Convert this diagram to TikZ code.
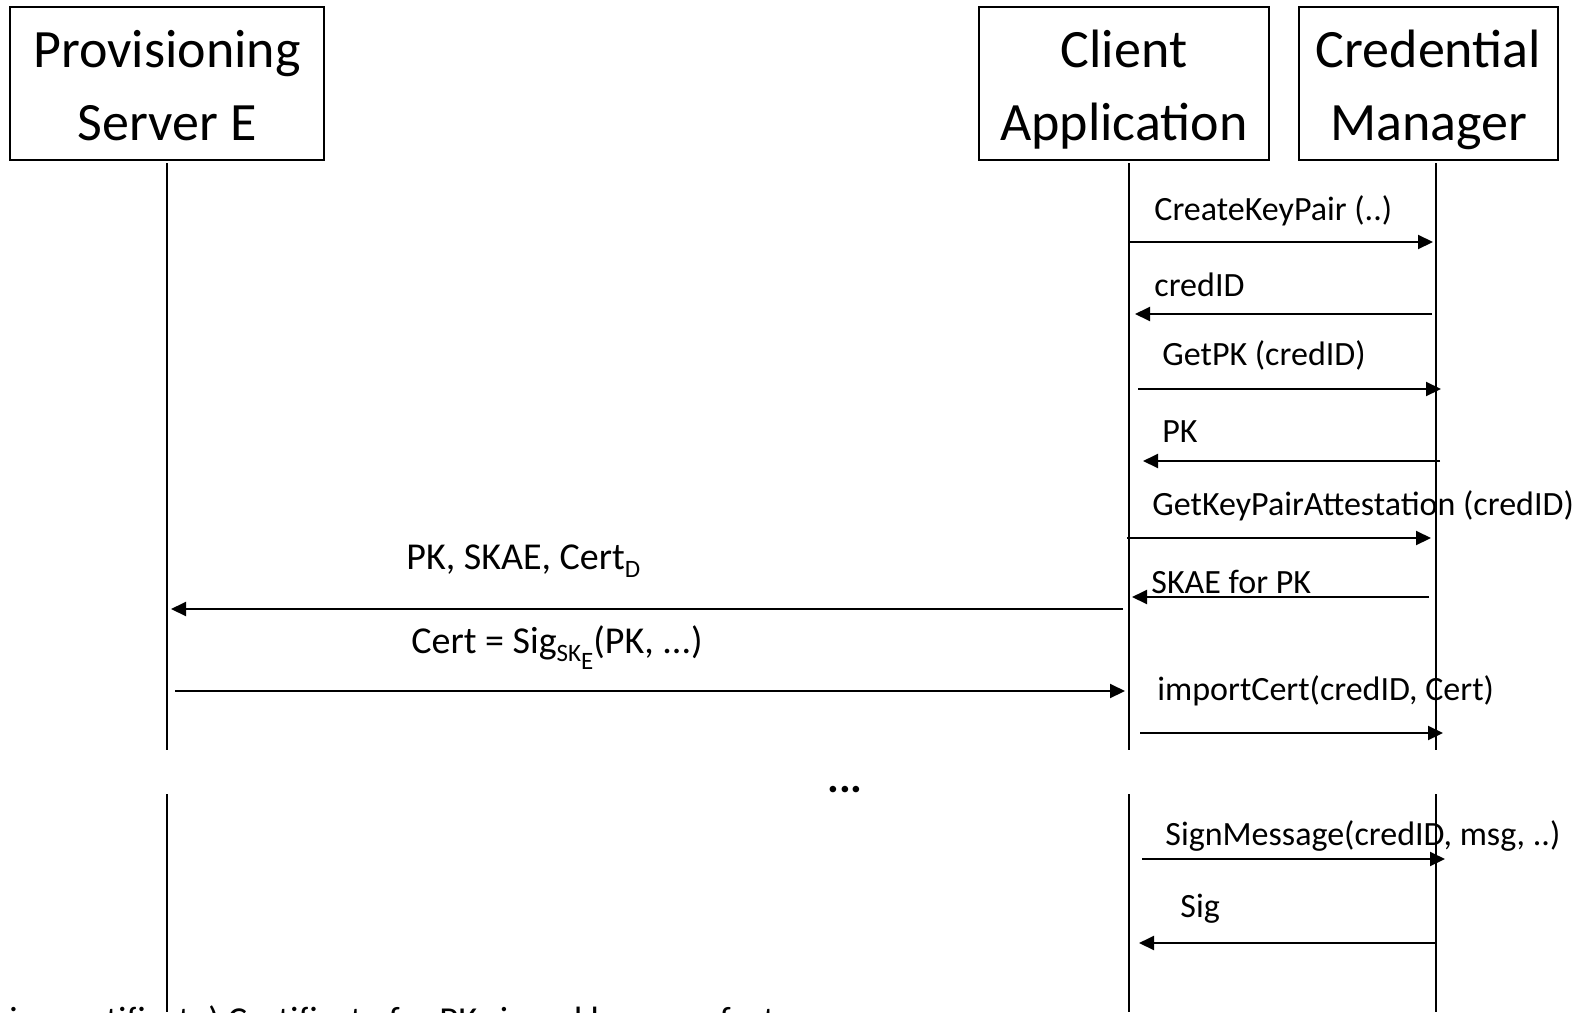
\documentclass[tikz,border=0pt]{standalone}
\usepackage{fontspec}
\setmainfont{Carlito}
\usetikzlibrary{arrows.meta}
\newcommand\lsub[1]{\raisebox{-4pt}{\fontsize{12.5}{12.5}\selectfont #1}}
\begin{document}
\begin{tikzpicture}[x=0.5pt,y=-0.5pt,
  actor/.style={draw,line width=1pt,rectangle,inner sep=0pt,minimum height=76.5pt},
  title/.style={anchor=base,inner sep=0pt,font=\fontsize{27}{36.5}\selectfont},
  life/.style={line width=0.8pt},
  msg/.style={line width=1pt,-{Triangle[length=7.5pt,width=7pt]}},
  lab/.style={anchor=base west,inner sep=0pt,font=\fontsize{17}{20}\selectfont},
  biglab/.style={anchor=base west,inner sep=0pt,font=\fontsize{19}{22}\selectfont}]
\useasboundingbox (0,0) rectangle (1594,1012);
% actors
\node[actor,minimum width=157pt] (prov) at (167,83.5) {};
\node[actor,minimum width=145pt] (client) at (1124,83.5) {};
\node[actor,minimum width=129.5pt] (cred) at (1428.5,83.5) {};
\node[title] (prov1) at (167,67) {Provisioning};
\node[title] (prov2) at (167,140) {Server E};
\node[title] (client1) at (1124,67) {Client};
\node[title] (client2) at (1124,140) {Application};
\node[title] (cred1) at (1428.5,67) {Credential};
\node[title] (cred2) at (1428.5,140) {Manager};
% lifelines
\coordinate (pT) at (167,163); \coordinate (pM) at (167,750);
\coordinate (pN) at (167,794); \coordinate (pB) at (167,1012);
\coordinate (cT) at (1129,163); \coordinate (cM) at (1129,750);
\coordinate (cN) at (1129,794); \coordinate (cB) at (1129,1012);
\coordinate (mT) at (1436,163); \coordinate (mM) at (1436,750);
\coordinate (mN) at (1436,794); \coordinate (mB) at (1436,1012);
\draw[life] (pT) -- (pM); \draw[life] (pN) -- (pB);
\draw[life] (cT) -- (cM); \draw[life] (cN) -- (cB);
\draw[life] (mT) -- (mM); \draw[life] (mN) -- (mB);
% messages
\draw[msg] (1130,242) -- (1433,242);
\node[lab] (l1) at (1154,220) {CreateKeyPair (..)};
\draw[msg] (1432,314) -- (1135,314);
\node[lab] (l2) at (1154,296) {credID};
\draw[msg] (1138,389) -- (1441,389);
\node[lab] (l3) at (1162,365) {GetPK (credID)};
\draw[msg] (1440,461) -- (1143,461);
\node[lab] (l4) at (1162,442) {PK};
\draw[msg] (1127,538) -- (1431,538);
\node[lab] (l5) at (1152,515) {GetKeyPairAttestation (credID)};
\draw[msg] (1429,597) -- (1132,597);
\node[lab] (l6) at (1151,593) {SKAE for PK};
\draw[msg] (1123,609) -- (171,609);
\node[biglab] (l7) at (406,569) {PK, SKAE, Cert\lsub{D}};
\draw[msg] (175,691) -- (1125,691);
\node[biglab] (l8) at (411,653) {Cert = Sig\lsub{SK\lsub{E}}(PK, ...)};
\draw[msg] (1140,733) -- (1443,733);
\node[lab] (l9) at (1157,700) {importCert(credID, Cert)};
\node[inner sep=0pt,font=\fontsize{22}{24}\selectfont\bfseries] (dots) at (845,790) {...};
\draw[msg] (1142,859) -- (1445,859);
\node[lab] (l10) at (1165,845) {SignMessage(credID, msg, ..)};
\draw[msg] (1435,943) -- (1139,943);
\node[lab] (l11) at (1180,917) {Sig};
% clipped footnote
\begin{scope}
\clip (0,0) rectangle (805,1012);
\node[lab,font=\fontsize{18.3}{20}\selectfont] (foot) at (-56,1032) {(device certificate) Certificate for PK signed by manufacturer};
\end{scope}
\end{tikzpicture}
\end{document}
